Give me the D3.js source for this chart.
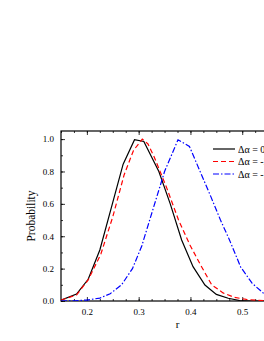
<!DOCTYPE html>
<html>
    <head>
        <meta charset="utf-8">
        <title>Probability vs r</title>
        <style type="text/css">
            body { margin: 0; background: #fff; }
            svg { display: block; }
            text { font-family: "Liberation Serif", "DejaVu Serif", serif; fill: #000; }
            .tick text { font-size: 9px; }
            .domain { stroke: none; }
        </style>
        <script src="https://d3js.org/d3.v7.min.js"></script>
    </head>
    <body>
        <svg id="chart" width="264" height="341"></svg>
        <script>
            // values
            const seriesNames = ["\u0394\u03b1 = 0", "\u0394\u03b1 = -2", "\u0394\u03b1 = -5"];

            const rZero = [0.15, 0.18, 0.2025, 0.225, 0.2475, 0.27, 0.292, 0.31, 0.339, 0.361, 0.383, 0.405, 0.428, 0.45, 0.473, 0.495, 0.518, 0.54, 0.6];
            const pZero = [0.005, 0.043, 0.134, 0.315, 0.58, 0.845, 0.996, 0.985, 0.80, 0.60, 0.377, 0.212, 0.099, 0.041, 0.017, 0.003, 0.0, 0.0, 0.0];

            const rTwo = [0.15, 0.18, 0.2025, 0.227, 0.25, 0.272, 0.29, 0.307, 0.318, 0.33, 0.354, 0.377, 0.399, 0.42, 0.441, 0.463, 0.485, 0.508, 0.53, 0.55, 0.6];
            const pTwo = [0.006, 0.037, 0.13, 0.29, 0.52, 0.78, 0.93, 1.0, 0.97, 0.89, 0.70, 0.5, 0.346, 0.22, 0.10, 0.05, 0.022, 0.01, 0.004, 0.002, 0.0];

            const rFive = [0.15, 0.18, 0.2, 0.225, 0.245, 0.267, 0.288, 0.306, 0.327, 0.35, 0.376, 0.398, 0.42, 0.44, 0.458, 0.475, 0.497, 0.519, 0.541, 0.56, 0.6];
            const pFive = [0.0, 0.002, 0.006, 0.018, 0.045, 0.10, 0.2, 0.34, 0.56, 0.80, 0.996, 0.955, 0.79, 0.64, 0.5, 0.38, 0.21, 0.11, 0.048, 0.02, 0.004];

            const xTicks = [0.2, 0.3, 0.4, 0.5];
            const yTicks = [0.0, 0.2, 0.4, 0.6, 0.8, 1.0];

            const plotLeft = 61, plotTop = 131, plotRight = 294, plotBottom = 301;

            const x = d3.scaleLinear().domain([0.15, 0.6]).range([plotLeft, plotRight]);
            const y = d3.scaleLinear().domain([0, 1.05]).range([plotBottom, plotTop]);

            const svg = d3.select("#chart");

            svg.append("clipPath").attr("id", "plot-clip")
                .append("rect")
                .attr("x", plotLeft).attr("y", plotTop)
                .attr("width", plotRight - plotLeft).attr("height", plotBottom - plotTop);

            const minorX = d3.range(0.15, 0.6001, 0.025);
            const minorY = d3.range(0, 1.0501, 0.1);

            // bottom axis
            svg.append("g")
                .attr("transform", `translate(0,${plotBottom})`)
                .call(d3.axisBottom(x).tickValues(minorX).tickSize(-2).tickFormat(""));
            svg.append("g")
                .attr("transform", `translate(0,${plotBottom})`)
                .call(d3.axisBottom(x).tickValues(xTicks).tickSize(-4).tickPadding(8).tickFormat(d3.format(".1f")));

            // top axis
            svg.append("g")
                .attr("transform", `translate(0,${plotTop})`)
                .call(d3.axisTop(x).tickValues(minorX).tickSize(-2).tickFormat(""));
            svg.append("g")
                .attr("transform", `translate(0,${plotTop})`)
                .call(d3.axisTop(x).tickValues(xTicks).tickSize(-4).tickFormat(""));

            // left axis
            svg.append("g")
                .attr("transform", `translate(${plotLeft},0)`)
                .call(d3.axisLeft(y).tickValues(minorY).tickSize(-2).tickFormat(""));
            svg.append("g")
                .attr("transform", `translate(${plotLeft},0)`)
                .call(d3.axisLeft(y).tickValues(yTicks).tickSize(-4).tickPadding(7).tickFormat(d3.format(".1f")));

            svg.selectAll(".tick line").attr("stroke", "#000").attr("stroke-width", 0.8);

            // frame
            svg.append("rect")
                .attr("x", plotLeft).attr("y", plotTop)
                .attr("width", plotRight - plotLeft).attr("height", plotBottom - plotTop)
                .attr("fill", "none").attr("stroke", "#000").attr("stroke-width", 1.2);

            const line = d3.line().x(d => x(d[0])).y(d => y(d[1]));

            const series = [
                { r: rZero, p: pZero, color: "#000000", dash: null },
                { r: rTwo, p: pTwo, color: "#ff0000", dash: "5,3" },
                { r: rFive, p: pFive, color: "#0000ff", dash: "6,2,1.5,2" }
            ];

            const plot = svg.append("g").attr("clip-path", "url(#plot-clip)");
            series.forEach(s => {
                plot.append("path")
                    .datum(s.r.map((r, i) => [r, s.p[i]]))
                    .attr("d", line)
                    .attr("fill", "none")
                    .attr("stroke", s.color)
                    .attr("stroke-width", 1.2)
                    .attr("stroke-dasharray", s.dash);
            });

            // legend (runs off the right edge, as in the original)
            const legend = svg.append("g").attr("transform", "translate(213,149)");
            series.forEach((s, i) => {
                const row = legend.append("g").attr("transform", `translate(0,${i * 12.5})`);
                row.append("line")
                    .attr("x1", 0).attr("x2", 22)
                    .attr("stroke", s.color).attr("stroke-width", 1.2)
                    .attr("stroke-dasharray", s.dash);
                row.append("text")
                    .attr("x", 25).attr("y", 3.5)
                    .style("font-size", "10px")
                    .text(seriesNames[i]);
            });

            // axis titles
            svg.append("text")
                .attr("x", (plotLeft + plotRight) / 2).attr("y", 328)
                .attr("text-anchor", "middle")
                .style("font-size", "11px")
                .text("r");

            svg.append("text")
                .attr("transform", `translate(35,${(plotTop + plotBottom) / 2}) rotate(-90)`)
                .attr("text-anchor", "middle")
                .style("font-size", "11.5px")
                .text("Probability");
        </script>
    </body>
</html>
